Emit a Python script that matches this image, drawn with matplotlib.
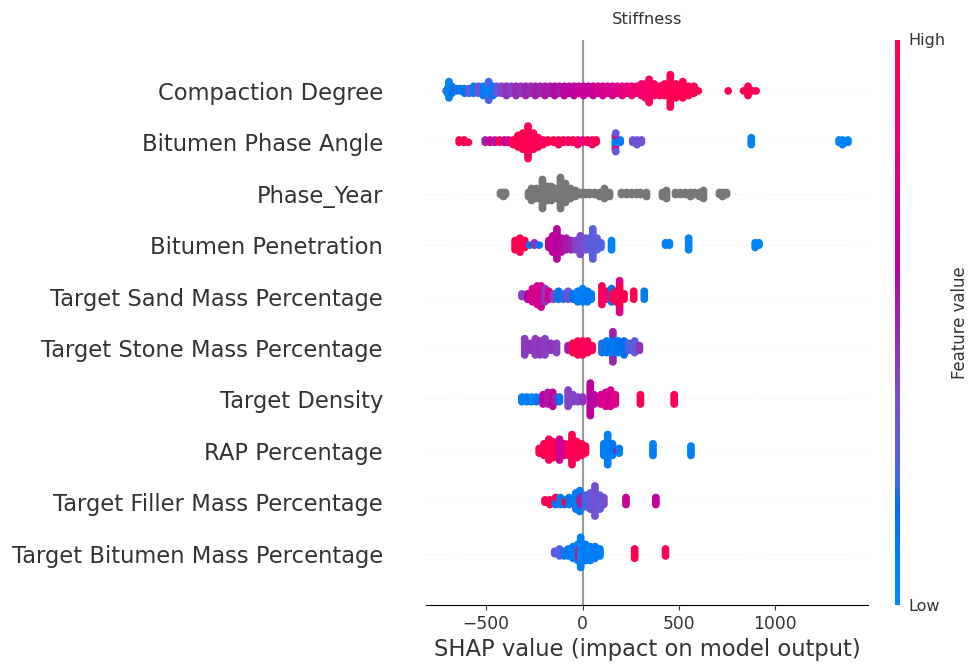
import numpy as np
import matplotlib
matplotlib.use("Agg")
import matplotlib.pyplot as plt
from matplotlib.colors import LinearSegmentedColormap
from matplotlib.cm import ScalarMappable

# ---------------- data ----------------
# each entry: (SHAP value, number of samples at that value, feature value 0-100)
features = ["Compaction Degree", "Bitumen Phase Angle", "Phase_Year",
            "Bitumen Penetration", "Target Sand Mass Percentage",
            "Target Stone Mass Percentage", "Target Density", "RAP Percentage",
            "Target Filler Mass Percentage", "Target Bitumen Mass Percentage"]

compaction_degree = [
    (-708, 1, 30), (-700, 2, 10), (-693, 8, 6), (-678, 4, 12),
    (-655, 2, 20), (-635, 2, 10), (-612, 3, 15),
    (-588, 3, 30), (-565, 4, 10), (-540, 4, 35), (-515, 5, 10), (-490, 5, 8),
    (-487, 4, 25), (-465, 5, 12), (-445, 4, 30),
    (-420, 4, 40), (-395, 5, 45), (-370, 4, 40), (-345, 5, 48), (-320, 4, 45),
    (-295, 5, 50), (-270, 4, 48), (-245, 5, 52), (-220, 4, 50), (-195, 5, 55),
    (-170, 4, 52), (-145, 5, 58), (-120, 4, 55),
    (-95, 5, 60), (-70, 4, 62), (-45, 5, 60), (-20, 4, 65), (5, 5, 63),
    (30, 4, 66), (55, 5, 65), (80, 4, 70), (105, 5, 68), (130, 4, 72),
    (155, 5, 70), (180, 4, 75), (205, 5, 78), (230, 4, 80),
    (255, 5, 82), (280, 4, 85), (305, 6, 88), (325, 7, 85), (345, 11, 92),
    (372, 6, 90), (400, 5, 92), (425, 6, 95), (455, 15, 100), (485, 7, 98),
    (520, 8, 95), (550, 5, 98), (578, 4, 100), (600, 1, 100),
    (755, 1, 100), (835, 1, 100), (858, 5, 100), (880, 1, 100), (900, 1, 100)]

bitumen_phase_angle = [
    (-640, 2, 100), (-615, 2, 100), (-592, 1, 100),
    (-505, 2, 50), (-480, 2, 70), (-455, 2, 55), (-430, 2, 100), (-405, 2, 60),
    (-385, 2, 75),
    (-360, 3, 95), (-335, 6, 100), (-310, 8, 100), (-283, 15, 100), (-255, 8, 95),
    (-230, 5, 100), (-205, 3, 90), (-180, 2, 100),
    (-150, 2, 100), (-125, 3, 90), (-100, 2, 100), (-75, 2, 85), (-50, 2, 100),
    (-25, 3, 90), (0, 2, 80), (25, 2, 100), (50, 3, 85), (70, 2, 100),
    (170, 5, 8), (170, 2, 75), (172, 2, 30), (195, 2, 12),
    (260, 2, 35), (282, 3, 33), (305, 2, 35),
    (875, 4, 5),
    (1330, 2, 5), (1348, 3, 5), (1376, 2, 5)]

# Phase_Year has no numeric feature value (drawn grey)
phase_year = [
    (-430, 2), (-415, 3), (-400, 2),
    (-285, 3), (-268, 7), (-240, 6), (-211, 15), (-185, 8), (-165, 8), (-140, 6),
    (-118, 16), (-90, 10), (-65, 6), (-40, 4),
    (-15, 2), (10, 2), (35, 2), (60, 2), (85, 3), (110, 6), (135, 3),
    (200, 2), (225, 2), (250, 2), (275, 2), (300, 2), (330, 3),
    (410, 3), (430, 5),
    (480, 2), (505, 2), (530, 2), (555, 3), (580, 2), (605, 3), (625, 5),
    (705, 2), (725, 3), (745, 2)]

bitumen_penetration = [
    (-350, 5, 100), (-325, 7, 100), (-300, 4, 100),
    (-275, 1, 10), (-250, 2, 45), (-225, 1, 15),
    (-175, 4, 60), (-155, 8, 62), (-133, 14, 60), (-110, 7, 58), (-85, 6, 55),
    (-60, 5, 50),
    (-35, 5, 40), (-12, 9, 38), (15, 6, 35), (35, 6, 30), (53, 14, 28), (75, 6, 30),
    (95, 3, 25),
    (150, 5, 5), (430, 2, 8), (450, 2, 5), (550, 6, 5), (895, 3, 5), (915, 2, 5)]

target_sand = [
    (-315, 2, 40), (-285, 3, 60), (-260, 6, 72), (-235, 8, 70), (-215, 9, 68),
    (-195, 6, 45), (-175, 4, 70),
    (-150, 3, 40), (-125, 4, 15), (-100, 3, 20), (-75, 4, 35), (-50, 3, 15),
    (-25, 5, 10), (0, 6, 8), (25, 5, 12), (45, 3, 10),
    (100, 8, 100), (105, 3, 85), (125, 4, 90), (150, 6, 15), (155, 3, 100),
    (175, 5, 95), (192, 10, 100), (192, 3, 75), (215, 3, 100),
    (265, 4, 100), (320, 4, 10)]

target_stone = [
    (-300, 8, 42), (-270, 4, 45), (-245, 8, 43), (-220, 7, 45), (-195, 8, 42),
    (-165, 4, 45), (-135, 5, 40),
    (-75, 3, 55), (-50, 5, 100), (-25, 7, 100), (0, 7, 95), (25, 6, 100), (50, 3, 90),
    (100, 5, 20), (125, 6, 15), (157, 10, 12), (157, 4, 50), (185, 6, 15),
    (215, 7, 18), (240, 4, 25), (270, 6, 30), (295, 3, 45)]

target_density = [
    (-315, 3, 8), (-290, 3, 10), (-265, 3, 8), (-240, 3, 12),
    (-205, 5, 60), (-180, 6, 55), (-155, 7, 62), (-140, 3, 50),
    (-120, 3, 15), (-75, 8, 40), (-50, 4, 40), (-25, 3, 38), (0, 3, 45),
    (40, 15, 60), (60, 5, 58),
    (95, 5, 70), (120, 7, 72), (145, 8, 70), (170, 5, 75),
    (300, 5, 100), (475, 5, 100)]

rap_percentage = [
    (-225, 3, 100), (-200, 6, 100), (-175, 10, 95), (-155, 8, 100),
    (-120, 10, 65), (-95, 6, 70),
    (-70, 6, 100), (-55, 14, 100), (-30, 8, 95), (-5, 6, 100), (15, 4, 100),
    (110, 6, 10), (130, 14, 8), (155, 6, 12), (180, 1, 60), (190, 3, 10),
    (365, 6, 8), (562, 5, 8)]

target_filler = [
    (-195, 2, 100), (-170, 3, 100),
    (-140, 3, 15), (-140, 1, 100), (-115, 4, 10), (-95, 3, 20), (-90, 1, 100),
    (-70, 4, 12),
    (-35, 8, 10), (-15, 10, 12), (-12, 2, 100), (-10, 2, 50),
    (15, 6, 25), (40, 8, 30), (64, 14, 35), (90, 7, 30), (110, 4, 35),
    (225, 4, 65), (380, 4, 65)]

target_bitumen = [
    (-145, 2, 28), (-120, 4, 25), (-95, 3, 20),
    (-75, 4, 10), (-50, 6, 8), (-25, 8, 5), (-18, 5, 100), (-10, 14, 8),
    (15, 8, 10), (40, 7, 8), (65, 6, 10), (90, 4, 8),
    (270, 5, 100), (430, 4, 100)]

rows = [compaction_degree, bitumen_phase_angle, phase_year, bitumen_penetration,
        target_sand, target_stone, target_density, rap_percentage,
        target_filler, target_bitumen]

title = "Stiffness"
xlabel = "SHAP value (impact on model output)"


# ---------------- SHAP red_blue colour map ----------------
def lch2rgb(lch):
    L, C, H = lch
    a = C * np.cos(H)
    b = C * np.sin(H)
    y = (L + 16.) / 116.
    x = a / 500. + y
    z = y - b / 200.
    xyz = np.array([x, y, z])
    xyz = np.where(xyz > 0.2068966, xyz ** 3, (xyz - 16. / 116.) / 7.787)
    xyz = xyz * np.array([0.95047, 1., 1.08883])
    M = np.array([[0.412453, 0.357580, 0.180423],
                  [0.212671, 0.715160, 0.072169],
                  [0.019334, 0.119193, 0.950227]])
    rgb = np.linalg.inv(M) @ xyz
    pos = np.clip(rgb, 1e-12, None)
    rgb = np.where(rgb > 0.0031308, 1.055 * pos ** (1 / 2.4) - 0.055, rgb * 12.92)
    return np.clip(rgb, 0, 1)


blue_lch = [54., 70., 4.6588]
l_mid = 40.
red_lch = [54., 90., 0.35470565 + 2 * np.pi]
nsteps = 100
l_vals = list(np.linspace(blue_lch[0], l_mid, nsteps // 2)) + \
    list(np.linspace(l_mid, red_lch[0], nsteps // 2))
c_vals = np.linspace(blue_lch[1], red_lch[1], nsteps)
h_vals = np.linspace(blue_lch[2], red_lch[2], nsteps)
cols = [lch2rgb([l, c, h]) for l, c, h in zip(l_vals, c_vals, h_vals)]
red_blue = LinearSegmentedColormap.from_list("red_blue", cols)


# ---------------- beeswarm layout (as in shap.summary_plot) ----------------
def swarm(vals, nbins=100, row_height=0.4):
    n = len(vals)
    quant = np.round(nbins * (vals - vals.min()) / (vals.max() - vals.min() + 1e-8))
    inds = np.argsort(quant, kind="stable")
    layer, last = 0, -1
    ys = np.zeros(n)
    for i in inds:
        if quant[i] != last:
            layer = 0
        ys[i] = np.ceil(layer / 2) * ((layer % 2) * 2 - 1)
        layer += 1
        last = quant[i]
    ys *= 0.9 * (row_height / np.max(ys + 1))
    return ys


# ---------------- figure ----------------
W, H = 968, 668
fig = plt.figure(figsize=(W / 100, H / 100), dpi=100)
ax = fig.add_axes([426 / W, (H - 605) / H, 442 / W, 565.5 / H])

axis_color = "#333333"
nrows = len(features)
dot_size = 31
ax.axvline(x=0, color="#999999", zorder=-1)

for i, (name, row) in enumerate(zip(features, rows)):
    pos = nrows - 1 - i
    ax.axhline(y=pos, color="#cccccc", lw=0.5, dashes=(1, 5), zorder=-1)
    vals = np.repeat([r[0] for r in row], [r[1] for r in row]).astype(float)
    ys = swarm(vals)
    if len(row[0]) == 2:
        ax.scatter(vals, pos + ys, color="#777777", s=dot_size,
                   alpha=1, linewidth=0, zorder=3)
    else:
        fv = np.repeat([r[2] for r in row], [r[1] for r in row]).astype(float)
        ax.scatter(vals, pos + ys, c=fv, cmap=red_blue, vmin=0, vmax=100,
                   s=dot_size, alpha=1, linewidth=0, zorder=3)

ax.set_yticks(range(nrows))
ax.set_yticklabels(list(reversed(features)), fontsize=16.3)
ax.set_ylim(-1, nrows)
ax.xaxis.set_ticks_position("bottom")
ax.yaxis.set_ticks_position("none")
for s in ["right", "top", "left"]:
    ax.spines[s].set_visible(False)
ax.tick_params(color=axis_color, labelcolor=axis_color)
ax.tick_params("y", length=0, pad=31)
ax.tick_params("x", labelsize=12.3)
ax.set_xticks([-500, 0, 500, 1000])
ax.set_xlabel(xlabel, fontsize=16.3, color=axis_color)
ax.set_title(title, fontsize=11.8, pad=11.5, color=axis_color)

cax = fig.add_axes([895 / W, (H - 605) / H, 5 / W, 565.5 / H])
sm = ScalarMappable(cmap=red_blue)
sm.set_array([0, 1])
cb = fig.colorbar(sm, cax=cax, ticks=[0, 1])
cb.set_ticklabels(["Low", "High"])
cb.ax.tick_params(labelsize=11.5, length=0, pad=6, labelcolor=axis_color)
cb.set_label("Feature value", size=11.9, labelpad=4, color=axis_color)
cb.outline.set_visible(False)

fig.savefig("out.png", dpi=100)
